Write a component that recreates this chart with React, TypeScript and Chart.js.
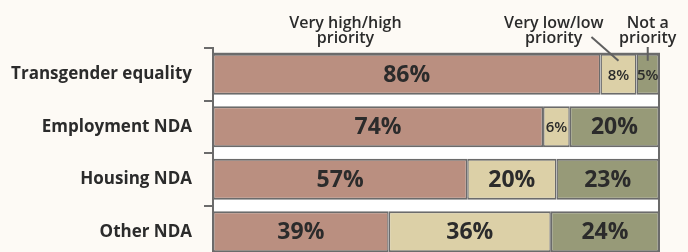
import React, { useEffect, useRef } from 'react';
import { Chart, registerables } from 'chart.js';

Chart.register(...registerables);

const categories = ['Transgender equality', 'Employment NDA', 'Housing NDA', 'Other NDA'];
const highPriority = [86, 74, 57, 39];
const lowPriority = [8, 6, 20, 36];
const notPriority = [5, 20, 23, 24];
const seriesNames = ['Very high/high priority', 'Very low/low priority', 'Not a priority'];

const BG = '#fdfaf5';
const ROSE = '#ba8f80';
const BEIGE = '#dcd0a7';
const OLIVE = '#979a78';
const GRAY = '#6b6b6b';
const TEXT = '#2b2b2b';
const FONT = '"Open Sans", "DejaVu Sans", sans-serif';

const overlay = {
  id: 'overlay',
  beforeDatasetsDraw(chart: any) {
    const { ctx, chartArea } = chart;
    const first = chart.getDatasetMeta(0).data[0];
    const top = first.y - first.height / 2;
    ctx.save();
    ctx.fillStyle = '#ffffff';
    ctx.fillRect(chartArea.left, top, chartArea.right - chartArea.left, chartArea.bottom - top + 4);
    ctx.strokeStyle = GRAY;
    ctx.lineWidth = 2;
    ctx.strokeRect(chartArea.left, top, chartArea.right - chartArea.left, chartArea.bottom - top + 4);
    ctx.restore();
  },
  afterDatasetsDraw(chart: any) {
    const { ctx } = chart;
    const raw = [highPriority, lowPriority, notPriority];
    ctx.save();
    ctx.fillStyle = TEXT;
    ctx.textAlign = 'center';
    ctx.textBaseline = 'middle';
    chart.data.datasets.forEach((_: any, di: number) => {
      const meta = chart.getDatasetMeta(di);
      meta.data.forEach((el: any, i: number) => {
        const v = raw[di][i];
        const cx = (el.x + el.base) / 2;
        ctx.font = v < 10 ? `600 15px ${FONT}` : `bold 23px ${FONT}`;
        ctx.fillText(`${v}%`, cx, el.y + 1);
      });
    });

    // Header annotations
    const x = chart.scales.x;
    const bar1Low = chart.getDatasetMeta(1).data[0];
    const bar1Not = chart.getDatasetMeta(2).data[0];
    const barTop = bar1Low.y - bar1Low.height / 2;
    ctx.font = `600 16px ${FONT}`;
    ctx.textBaseline = 'alphabetic';
    const headers: [string[], number][] = [
      [['Very high/high', 'priority'], x.getPixelForValue(29.7)],
      [['Very low/low', 'priority'], x.getPixelForValue(76.4)],
      [['Not a', 'priority'], (bar1Not.x + bar1Not.base) / 2],
    ];
    headers.forEach(([lines, hx]) => {
      lines.forEach((t, li) => ctx.fillText(t, hx, 28 + li * 15));
    });

    // leader lines
    ctx.strokeStyle = '#5f5f5f';
    ctx.lineWidth = 2;
    const lowCx = (bar1Low.x + bar1Low.base) / 2;
    ctx.beginPath();
    ctx.moveTo(lowCx - 27, 37);
    ctx.lineTo(lowCx, barTop + 7);
    ctx.stroke();
    const notCx = (bar1Not.x + bar1Not.base) / 2;
    ctx.beginPath();
    ctx.moveTo(notCx, 47);
    ctx.lineTo(notCx, barTop + 7);
    ctx.stroke();
    ctx.restore();
  },
};

export default function App() {
  const ref = useRef<HTMLCanvasElement>(null);
  useEffect(() => {
    document.body.style.margin = '0';
    document.body.style.background = BG;
    const totals = categories.map((_, i) => highPriority[i] + lowPriority[i] + notPriority[i]);
    const norm = (arr: number[]) => arr.map((v, i) => (v / totals[i]) * 100);
    const colors = [ROSE, BEIGE, OLIVE];
    const chart = new Chart(ref.current as HTMLCanvasElement, {
      type: 'bar',
      data: {
        labels: categories,
        datasets: [highPriority, lowPriority, notPriority].map((arr, i) => ({
          label: seriesNames[i],
          data: norm(arr),
          backgroundColor: colors[i],
          borderColor: GRAY,
          borderWidth: { top: 2, bottom: 2, left: 1.5, right: 1.5 },
          borderSkipped: false,
          categoryPercentage: 1,
          barPercentage: 0.78,
        })),
      },
      options: {
        indexAxis: 'y',
        responsive: false,
        animation: false,
        layout: { padding: { top: 48, right: 29, left: 0, bottom: 0 } },
        plugins: { legend: { display: false }, tooltip: { enabled: false } },
        scales: {
          x: { stacked: true, min: 0, max: 100, display: false },
          y: {
            stacked: true,
            afterFit: (s: any) => {
              s.width = 213;
              s.paddingTop = 0;
              s.paddingBottom = 0;
            },
            grid: { offset: true, drawOnChartArea: false, tickLength: 9, color: GRAY, lineWidth: 2 },
            border: { color: GRAY, width: 2 },
            ticks: { color: TEXT, padding: 12, font: { family: FONT, size: 17, weight: 'bold' } },
          },
        },
      } as any,
      plugins: [overlay],
    });
    return () => chart.destroy();
  }, []);
  return (
    <div style={{ width: 688, height: 252, overflow: 'hidden' }}>
      <canvas ref={ref} width={688} height={258} style={{ display: 'block', width: 688, height: 258 }} />
    </div>
  );
}
